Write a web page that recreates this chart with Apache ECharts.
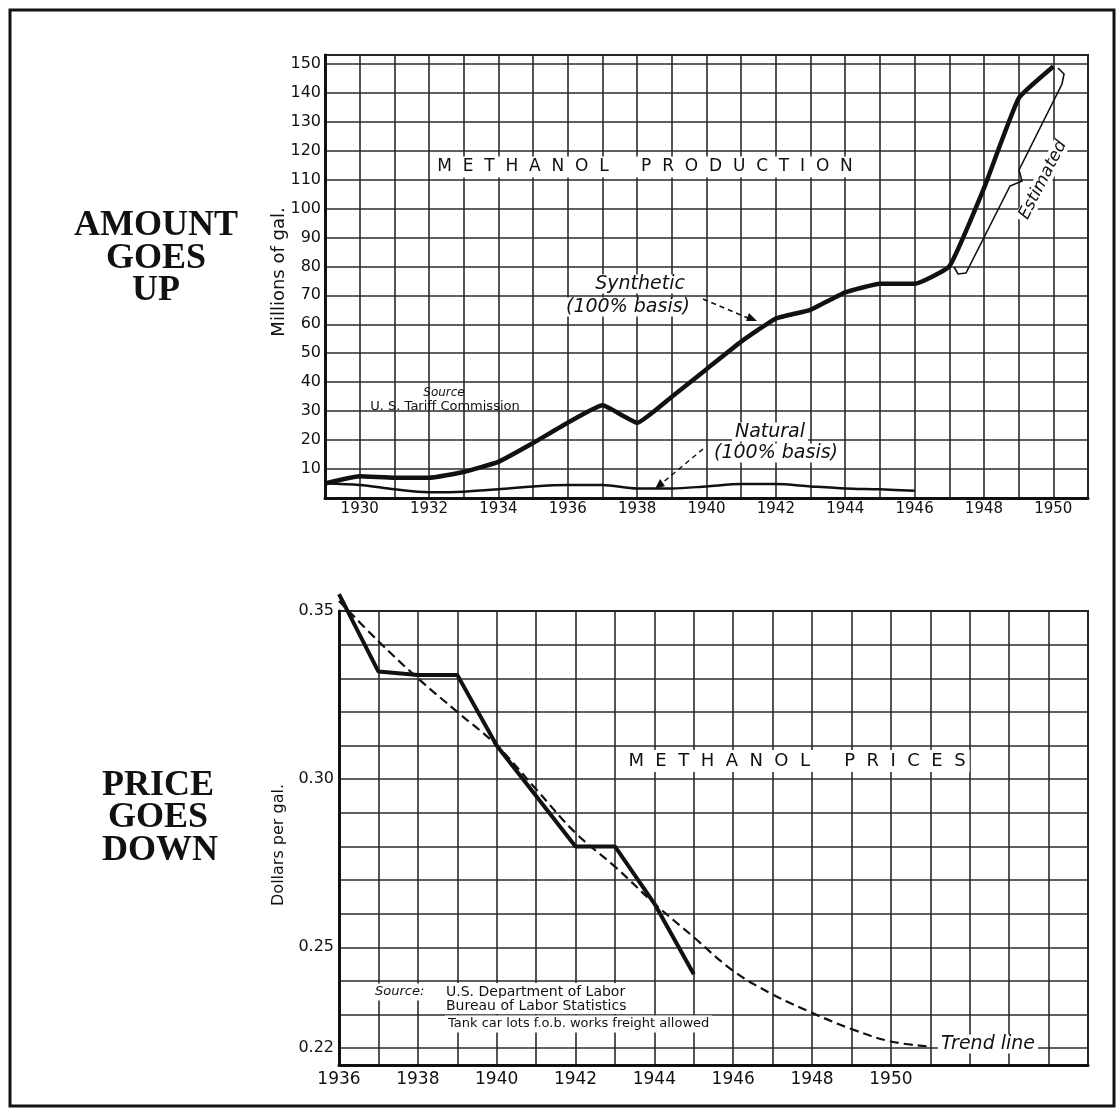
<!DOCTYPE html>
<html>
<head>
<meta charset="utf-8">
<script src="https://cdn.jsdelivr.net/npm/echarts@6/dist/echarts.min.js"></script>
<style>
  html, body { margin: 0; padding: 0; background: #fff; }
  #main { width: 1118px; height: 1113px; }
</style>
</head>
<body>
<div id="main"></div>
<script>
// methanol production, millions of gal.
const prodYears = [1929, 1930, 1931, 1932, 1933, 1934, 1935, 1936, 1937, 1938, 1939,
  1940, 1941, 1942, 1943, 1944, 1945, 1946, 1947, 1948, 1949, 1950];
const synthetic = [5, 7.5, 7, 7, 9, 12.5, 19, 26, 32, 26, 35,
  44.5, 54, 62, 65, 71, 74, 74, 80, 107, 138, 149];
const naturalYears = [1929, 1930, 1931, 1932, 1933, 1934, 1935, 1936, 1937, 1938, 1939,
  1940, 1941, 1942, 1943, 1944, 1945, 1946];
const natural = [5, 4.5, 3, 2, 2.2, 3, 4, 4.5, 4.5, 3.3, 3.3,
  4, 4.8, 4.8, 4, 3.3, 3, 2.5];

// methanol prices, dollars per gal.
const priceYears = [1936, 1937, 1938, 1939, 1940, 1941, 1942, 1943, 1944, 1945];
const price = [0.355, 0.332, 0.331, 0.331, 0.31, 0.295, 0.28, 0.28, 0.263, 0.242];
const trendYears = [1936, 1937, 1938, 1939, 1940, 1941, 1942, 1943, 1944, 1945,
  1946, 1947, 1948, 1949, 1950, 1951];
const trend = [0.353, 0.341, 0.330, 0.320, 0.310, 0.297, 0.284, 0.274, 0.263, 0.253,
  0.243, 0.236, 0.2305, 0.2257, 0.222, 0.2205];

// tick labels
const prodYLabels = [10, 20, 30, 40, 50, 60, 70, 80, 90, 100, 110, 120, 130, 140, 150];
const priceYLabels = ['0.22', '0.25', '0.30', '0.35'];

const zip = (xs, ys) => xs.map((x, i) => [x, ys[i]]);

const ink = '#111';
const gridInk = '#2b2b2b';
const sans = '"DejaVu Sans"';
const fs = '\u2007'; // figure space, spreads the title letters

const txt = (x, y, text, font, extra) => Object.assign({
  type: 'text', x: x, y: y, z: 10,
  style: Object.assign({ text: text, font: font, fill: ink, align: 'center', verticalAlign: 'middle' }, extra || {})
});
const boxed = { backgroundColor: '#fff', padding: [2, 4] };
const tight = { backgroundColor: '#fff', padding: [0, 3] };

const chart = echarts.init(document.getElementById('main'));

const option = {
  animation: false,
  backgroundColor: '#fff',
  grid: [
    { left: 325, top: 55, width: 763, height: 443, show: true, borderColor: ink, borderWidth: 2 },
    { left: 339, top: 611, width: 749, height: 454, show: true, borderColor: ink, borderWidth: 2 }
  ],
  xAxis: [
    {
      type: 'value', gridIndex: 0, min: 1929, max: 1951, interval: 1,
      axisLine: { lineStyle: { color: ink, width: 3 } },
      axisTick: { show: false },
      axisLabel: {
        margin: 4, color: ink, fontFamily: 'DejaVu Sans', fontSize: 15,
        formatter: v => (v % 2 === 0 && v <= 1950) ? String(v) : ''
      },
      splitLine: { show: true, lineStyle: { color: gridInk, width: 1.6 } }
    },
    {
      type: 'value', gridIndex: 1, min: 1936, max: 1955, interval: 1,
      axisLine: { lineStyle: { color: ink, width: 3 } },
      axisTick: { show: false },
      axisLabel: {
        margin: 6, color: ink, fontFamily: 'DejaVu Sans', fontSize: 17,
        formatter: v => (v % 2 === 0 && v <= 1950) ? String(v) : ''
      },
      splitLine: { show: true, lineStyle: { color: gridInk, width: 1.6 } }
    }
  ],
  yAxis: [
    {
      type: 'value', gridIndex: 0, min: 0, max: 153, interval: 10,
      axisLine: { show: true, lineStyle: { color: ink, width: 3 } },
      axisTick: { show: false },
      axisLabel: {
        margin: 4, color: ink, fontFamily: 'DejaVu Sans', fontSize: 16,
        formatter: v => prodYLabels.includes(v) ? String(v) : ''
      },
      splitLine: { show: true, lineStyle: { color: gridInk, width: 1.6 } }
    },
    {
      // half-cent ticks so 0.22 is reached from min; only every second line is drawn
      type: 'value', gridIndex: 1, min: 0.215, max: 0.35, interval: 0.005,
      axisLine: { show: true, lineStyle: { color: ink, width: 3 } },
      axisTick: { show: false },
      axisLabel: {
        margin: 5, color: ink, fontFamily: 'DejaVu Sans', fontSize: 16,
        formatter: v => priceYLabels.includes(v.toFixed(3).slice(0, 4)) && Math.abs(v * 100 - Math.round(v * 100)) < 1e-6
          ? v.toFixed(2) : ''
      },
      splitLine: { show: true, lineStyle: { color: ['rgba(0,0,0,0)', gridInk], width: 1.6 } }
    }
  ],
  series: [
    {
      name: 'Synthetic', type: 'line', xAxisIndex: 0, yAxisIndex: 0,
      data: zip(prodYears, synthetic), symbol: 'none', smooth: 0.12,
      lineStyle: { color: ink, width: 4.5 }, z: 5
    },
    {
      name: 'Natural', type: 'line', xAxisIndex: 0, yAxisIndex: 0,
      data: zip(naturalYears, natural), symbol: 'none', smooth: 0.3,
      lineStyle: { color: ink, width: 2.5 }, z: 5
    },
    {
      name: 'Price', type: 'line', xAxisIndex: 1, yAxisIndex: 1, clip: false,
      data: zip(priceYears, price), symbol: 'none',
      lineStyle: { color: ink, width: 4 }, z: 5
    },
    {
      name: 'Trend line', type: 'line', xAxisIndex: 1, yAxisIndex: 1, clip: false,
      data: zip(trendYears, trend), symbol: 'none', smooth: 0.4,
      lineStyle: { color: ink, width: 2.2, type: [9, 5] }, z: 4
    }
  ],
  graphic: [
    // frame
    { type: 'rect', z: 1, shape: { x: 10, y: 10, width: 1104, height: 1096 },
      style: { fill: null, stroke: ink, lineWidth: 3 } },

    // side headings
    txt(156, 226, 'AMOUNT', 'bold 36px "Liberation Serif"'),
    txt(156, 259, 'GOES', 'bold 36px "Liberation Serif"'),
    txt(156, 291, 'UP', 'bold 36px "Liberation Serif"'),
    txt(158, 786, 'PRICE', 'bold 36px "Liberation Serif"'),
    txt(158, 818, 'GOES', 'bold 36px "Liberation Serif"'),
    txt(160, 851, 'DOWN', 'bold 36px "Liberation Serif"'),

    // axis names
    Object.assign(txt(279, 272, 'Millions of gal.', '18px ' + sans), { rotation: Math.PI / 2 }),
    Object.assign(txt(279, 845, 'Dollars per gal.', '16px ' + sans), { rotation: Math.PI / 2 }),

    // chart titles
    txt(645, 167, 'METHANOL'.split('').join(fs) + fs + fs + fs + 'PRODUCTION'.split('').join(fs),
      '17px ' + sans, boxed),
    txt(797, 761, 'METHANOL'.split('').join(fs) + fs + fs + fs + 'PRICES'.split('').join(fs),
      '18px ' + sans, boxed),

    // production notes
    txt(640, 284, 'Synthetic', 'italic 19px ' + sans, tight),
    txt(628, 307, '(100% basis)', 'italic 19px ' + sans, tight),
    { type: 'line', z: 9, shape: { x1: 703, y1: 299, x2: 748, y2: 318 },
      style: { stroke: ink, lineWidth: 1.5, lineDash: [5, 4] } },
    { type: 'polygon', z: 9, shape: { points: [[757, 321], [746, 321], [749, 313]] },
      style: { fill: ink } },

    txt(770, 432, 'Natural', 'italic 19px ' + sans, tight),
    txt(776, 453, '(100% basis)', 'italic 19px ' + sans, tight),
    { type: 'line', z: 9, shape: { x1: 703, y1: 449, x2: 661, y2: 484 },
      style: { stroke: ink, lineWidth: 1.5, lineDash: [5, 4] } },
    { type: 'polygon', z: 9, shape: { points: [[655, 489], [665, 486], [660, 479]] },
      style: { fill: ink } },

    txt(444, 393, 'Source', 'italic 12px ' + sans),
    txt(445, 407, 'U. S. Tariff Commission', '13px ' + sans),

    // estimated bracket
    { type: 'polyline', z: 9,
      shape: { points: [[954, 267], [958, 274], [966, 273], [1010, 186], [1022, 181], [1019, 170],
        [1062, 84], [1064, 74], [1058, 68]] },
      style: { stroke: ink, lineWidth: 1.6, fill: null } },
    Object.assign(txt(1043, 180, 'Estimated', 'italic 17px ' + sans, tight),
      { rotation: 63 * Math.PI / 180 }),

    // price notes
    txt(372, 992, 'Source:', 'italic 13px ' + sans, { align: 'left', backgroundColor: '#fff', padding: [2, 3] }),
    txt(443, 992, 'U.S. Department of Labor', '14px ' + sans, { align: 'left', backgroundColor: '#fff', padding: [2, 3] }),
    txt(443, 1006, 'Bureau of Labor Statistics', '14px ' + sans, { align: 'left', backgroundColor: '#fff', padding: [1, 3] }),
    txt(445, 1024, 'Tank car lots f.o.b. works freight allowed', '13px ' + sans, { align: 'left', backgroundColor: '#fff', padding: [2, 3] }),
    txt(988, 1044, 'Trend line', 'italic 19px ' + sans, tight)
  ]
};

chart.setOption(option);
</script>
</body>
</html>
